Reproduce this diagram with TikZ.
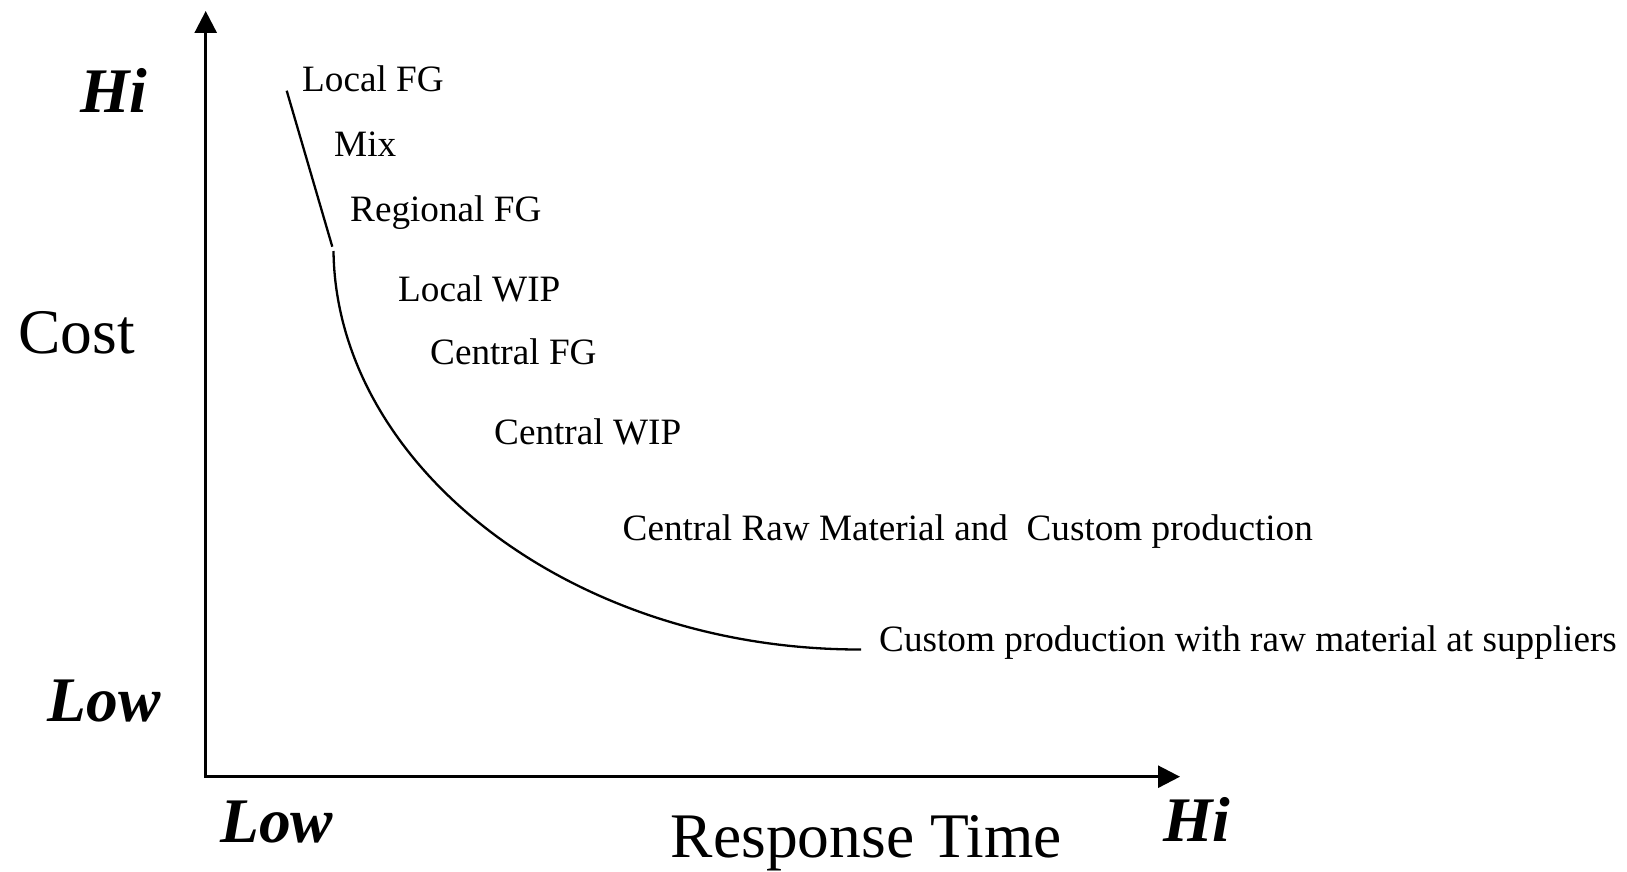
\documentclass[tikz,border=0pt]{standalone}
\usepackage{fontspec}
\setmainfont{Liberation Serif}
\usetikzlibrary{arrows.meta}
\begin{document}
\begin{tikzpicture}[x=1pt,y=-1pt,
  axis/.style={line width=2.7pt,
    {Triangle[length=22pt,width=22pt]}-{Triangle[length=22pt,width=22pt]}},
  trend/.style={line width=2.3pt},
  option/.style={anchor=base west, inner sep=0pt,
    font=\fontsize{37.2}{40}\selectfont},
  axislabel/.style={anchor=base west, inner sep=0pt,
    font=\fontsize{63.5}{70}\selectfont},
  level/.style={anchor=base west, inner sep=0pt,
    font=\fontsize{63.5}{70}\selectfont\bfseries\itshape}]
\useasboundingbox (0,0) rectangle (1627,872);

% axes
\coordinate (ytip) at (205.7,11);
\coordinate (origin) at (205.7,776.7);
\coordinate (xtip) at (1180,776.7);
\draw[axis] (ytip) -- (origin) -- (xtip);

% cost / response-time trade-off curve
\coordinate (s0) at (286.7,90.7);
\coordinate (s1) at (332.3,246.7);
\coordinate (c0) at (333.5,251);
\coordinate (c1) at (861,649.5);
\draw[trend] (s0) -- (s1);
\draw[trend] (c0) .. controls (336,465) and (570,650) .. (c1);

% axis labels
\node[level] (hiy) at (80,113) {Hi};
\node[axislabel] (cost) at (18,353) {Cost};
\node[level] (lowy) at (47.7,721) {Low};
\node[level] (lowx) at (220,842) {Low};
\node[axislabel] (resp) at (670.7,857.5) {Response Time};
\node[level] (hix) at (1163,841) {Hi};

% inventory strategies along the curve
\node[option] (lfg) at (302,92) {Local FG};
\node[option] (mix) at (334,157) {Mix};
\node[option] (rfg) at (350,221) {Regional FG};
\node[option] (lwip) at (398,301) {Local WIP};
\node[option] (cfg) at (430,364) {Central FG};
\node[option] (cwip) at (494,444) {Central WIP};
\node[option] (craw) at (622.5,540.5) {Central Raw Material and\ \ Custom production};
\node[option] (csup) at (879,651.6) {Custom production with raw material at suppliers};
\end{tikzpicture}
\end{document}
